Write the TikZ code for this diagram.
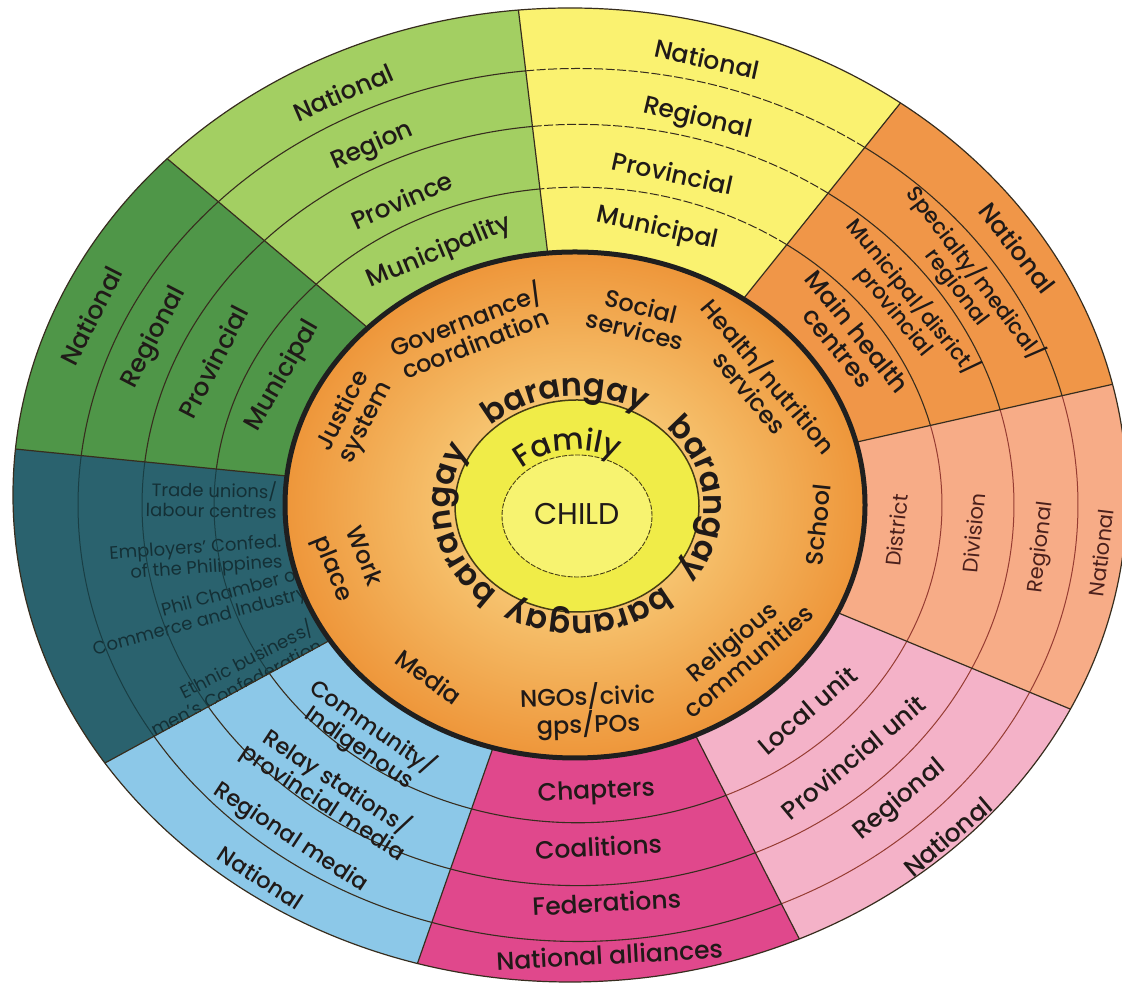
\documentclass[tikz,border=0pt]{standalone}
\usepackage{fontspec}
\setmainfont{Poppins}
\newfontfamily\pmed{Poppins Medium}
\newfontfamily\psemi{Poppins SemiBold}
\usetikzlibrary{decorations.text}
\definecolor{cLG}{RGB}{163,207,98}
\definecolor{cDG}{RGB}{79,150,72}
\definecolor{cTE}{RGB}{42,98,110}
\definecolor{cLB}{RGB}{140,200,232}
\definecolor{cMA}{RGB}{224,72,140}
\definecolor{cPI}{RGB}{244,178,200}
\definecolor{cSA}{RGB}{247,172,135}
\definecolor{cOR}{RGB}{240,150,72}
\definecolor{cYE}{RGB}{250,242,112}
\definecolor{cOin}{RGB}{252,228,150}
\definecolor{cOout}{RGB}{238,150,58}
\definecolor{cFam}{RGB}{240,236,72}
\definecolor{cChild}{RGB}{247,243,112}
\definecolor{txt}{RGB}{32,26,24}
\definecolor{txtS}{RGB}{75,32,28}
\definecolor{txtT}{RGB}{20,48,54}
\definecolor{lnDark}{RGB}{55,45,30}
\definecolor{lnRed}{RGB}{150,60,50}
\definecolor{lnTeal}{RGB}{25,62,68}
\definecolor{lnFam}{RGB}{70,60,20}
\newcommand\ringarcs[3]{\foreach \rr in {364,436,500}{\draw[#3] (#1:\rr) arc[start angle=#1,end angle=#2,radius=\rr];}}
\newcommand\brgy[2]{\path[decorate,decoration={text along path,text align=center,text color=txt,text={|\psemi\fontsize{32}{32}\selectfont|barangay}}]
  (577pt,478pt) ++(#1:127pt and 110pt) arc[start angle=#1,end angle=#2,x radius=127pt,y radius=110pt];}
\begin{document}
\begin{tikzpicture}[x=1pt,y=1pt,
  olab/.style={font=\pmed\fontsize{25}{25}\selectfont,text=txt,align=center,inner sep=0pt},
  olabs/.style={olab,font=\pmed\fontsize{21.5}{22.5}\selectfont},
  lblab/.style={olab,font=\pmed\fontsize{22.5}{22}\selectfont},
  slab/.style={font=\fontsize{21}{22}\selectfont,text=txtS,inner sep=0pt},
  ilab/.style={font=\pmed\fontsize{24}{25}\selectfont,text=txt,align=center,inner sep=0pt},
  tlab/.style={font=\fontsize{18}{20}\selectfont,text=txtT,align=right,inner sep=0pt},
  rotcw/.style={rotate={atan2(-0.873*cos(#1),sin(#1))}},
  rotccw/.style={rotate={atan2(0.873*cos(#1),-sin(#1))}},
  rl/.style={line width=1.1,draw=lnDark},
  rly/.style={line width=1.0,draw=lnDark,dash pattern=on 9pt off 2.5pt},
  rlr/.style={line width=1.0,draw=lnRed},
  rlt/.style={line width=1.0,draw=lnTeal},
  bl/.style={line width=1.2,draw=lnDark}]
\useasboundingbox (0,0) rectangle (1122,984);
\fill[white] (0,0) rectangle (1122,984);
\begin{scope}
  \clip (570,489) ellipse [x radius=557,y radius=487];
  \begin{scope}[shift={(578,479)},yscale=0.873]
    \fill[cDG] (0,0) -- (136:800) arc[start angle=136,end angle=173.5,radius=800] -- cycle;
    \fill[cLG] (0,0) -- (96:800) arc[start angle=96,end angle=136,radius=800] -- cycle;
    \fill[cYE] (0,0) -- (55:800) arc[start angle=55,end angle=96,radius=800] -- cycle;
    \fill[cOR] (0,0) -- (14.5:800) arc[start angle=14.5,end angle=55,radius=800] -- cycle;
    \fill[cSA] (0,0) -- (-25.4:800) arc[start angle=-25.4,end angle=14.5,radius=800] -- cycle;
    \fill[cPI] (0,0) -- (-66:800) arc[start angle=-66,end angle=-25.4,radius=800] -- cycle;
    \fill[cMA] (0,0) -- (-107:800) arc[start angle=-107,end angle=-66,radius=800] -- cycle;
    \fill[cLB] (0,0) -- (-148:800) arc[start angle=-148,end angle=-107,radius=800] -- cycle;
    \fill[cTE] (0,0) -- (-186.5:800) arc[start angle=-186.5,end angle=-148,radius=800] -- cycle;
  \end{scope}
  % teal sector texts, clipped to the sector
  \begin{scope}
    \clip (578,479) -- (-216.9,558.1) -- (-202.3,324.9) -- (-100.4,108.9) -- cycle;
    \node[tlab,anchor=east,rotate=-1] (te1) at (277,484) {Trade unions/\\labour centres};
    \node[tlab,anchor=east,rotate=4] (te2) at (282,431) {Employers' Confed.\\of the Philippines};
    \node[tlab,anchor=east,rotate=15] (te3) at (304,400) {Phil Chamber of\\Commerce and Industry};
    \node[tlab,anchor=east,rotate=27] (te4) at (316,350) {Ethnic business/\\men's Confederation};
  \end{scope}
  \begin{scope}[shift={(578,479)},yscale=0.873]
    \ringarcs{136}{173.5}{rl}
    \ringarcs{96}{136}{rl}
    \ringarcs{55}{96}{rly}
    \ringarcs{14.5}{55}{rl}
    \ringarcs{-25.4}{14.5}{rlr}
    \ringarcs{-66}{-25.4}{rlr}
    \ringarcs{-107}{-66}{rl}
    \ringarcs{-148}{-107}{rl}
    \ringarcs{-186.5}{-148}{rlt}
    \foreach \a in {136,96,55,14.5,-25.4,-66,-107,-148,173.5}{\draw[bl] (\a:200) -- (\a:700);}
    % light green
    \node[olab,rotcw=116.4] (lg1) at (116.4:528) {National};
    \node[olab,rotcw=116.6] (lg2) at (116.6:459) {Region};
    \node[olab,rotcw=116.8] (lg3) at (116.8:391) {Province};
    \node[olab,rotcw=115.6] (lg4) at (115.6:321) {Municipality};
    % dark green
    \node[olab,rotcw=156] (dg1) at (156:533) {National};
    \node[olab,rotcw=155.6] (dg2) at (155.6:465) {Regional};
    \node[olab,rotcw=155.8] (dg3) at (155.8:400) {Provincial};
    \node[olab,rotcw=153.4] (dg4) at (153.4:330) {Municipal};
    % yellow
    \node[olab,rotcw=75.8] (ye1) at (75.8:527) {National};
    \node[olab,rotcw=74.9] (ye2) at (74.9:458) {Regional};
    \node[olab,rotcw=76] (ye3) at (76:392) {Provincial};
    \node[olab,rotcw=75.9] (ye4) at (75.9:326) {Municipal};
    % orange
    \node[olab,rotcw=33.8] (or1) at (33.8:529) {National};
    \node[olabs,rotcw=33.5] (or2) at (33.5:466) {Specialty/medical/\\regional};
    \node[olabs,rotcw=35.2] (or3) at (35.2:399) {Municipal/disrict/\\provincial};
    \node[olab,rotcw=35.1] (or4) at (35.1:330) {Main health\\centres};
    % salmon
    \node[slab,rotccw=-5.2] (sa1) at (-5.2:320) {District};
    \node[slab,rotccw=-4.6] (sa2) at (-4.6:397) {Division};
    \node[slab,rotccw=-6] (sa3) at (-6:466) {Regional};
    \node[slab,rotccw=-6] (sa4) at (-6:526) {National};
    % pink
    \node[olab,rotccw=-45.7] (pi1) at (-45.7:328) {Local unit};
    \node[olab,rotccw=-46.4] (pi2) at (-46.4:399) {Provincial unit};
    \node[olab,rotccw=-46.4] (pi3) at (-46.4:467) {Regional};
    \node[olab,rotccw=-45.8] (pi4) at (-45.8:530) {National};
    % magenta
    \node[olab,rotccw=-86.8] (ma1) at (-86.8:330) {Chapters};
    \node[olab,rotccw=-87] (ma2) at (-87:392) {Coalitions};
    \node[olab,rotccw=-86.4] (ma3) at (-86.4:456) {Federations};
    \node[olab,rotccw=-86.5] (ma4) at (-86.5:516) {National alliances};
    % light blue
    \node[lblab,rotccw=-128.5] (lb1) at (-128.5:340) {Community/\\Indigenous};
    \node[lblab,rotccw=-127] (lb2) at (-127:412) {Relay stations/\\provincial media};
    \node[lblab,rotccw=-127] (lb3) at (-127:478) {Regional media};
    \node[lblab,rotccw=-126.6] (lb4) at (-126.6:532) {National};
  \end{scope}
\end{scope}
\draw[line width=1.2,draw=lnDark] (570,489) ellipse [x radius=557,y radius=487];
% orange circle
\shade[inner color=cOin,outer color=cOout] (575,479) ellipse [x radius=290,y radius=253];
\draw[line width=5,black!88] (575,479) ellipse [x radius=290,y radius=253];
% family and child
\filldraw[fill=cFam,draw=lnFam,line width=1.5] (577,478) ellipse [x radius=122,y radius=106];
\filldraw[fill=cChild,draw=lnFam,line width=0.9,dash pattern=on 5pt off 1.5pt] (577,468) ellipse [x radius=75,y radius=61];
\node[font=\fontsize{30}{30}\selectfont,text=txt] (child) at (577,470) {CHILD};
\path[decorate,decoration={text along path,text align=center,text color=txt,text={|\pmed\fontsize{30}{30}\selectfont|Family}}]
  (577pt,468pt) ++(145:80pt and 66pt) arc[start angle=145,end angle=50,x radius=80pt,y radius=66pt];
% barangay ring
\brgy{146}{46}
\brgy{54}{-46}
\brgy{-34}{-134}
\brgy{240}{140}
% labels inside the orange circle
\node[ilab,rotate=21] (gov) at (470,654) {Governance/\\coordination};
\node[ilab,rotate=-14] (soc) at (638,666) {Social\\services};
\node[ilab,rotate=-50] (hea) at (761,601) {Health/nutrition\\services};
\node[ilab,rotate=84] (sch) at (818,459) {School};
\node[ilab,rotate=40] (rel) at (740,333) {Religious\\communities};
\node[ilab,rotate=2] (ngo) at (588,273) {NGOs/civic\\gps/POs};
\node[ilab,rotate=-36] (med) at (429,307) {Media};
\node[ilab,rotate=-68] (wor) at (347,421) {Work\\[8pt]place};
\node[ilab,rotate=63] (jus) at (355,567) {Justice\\system};
\end{tikzpicture}
\end{document}
